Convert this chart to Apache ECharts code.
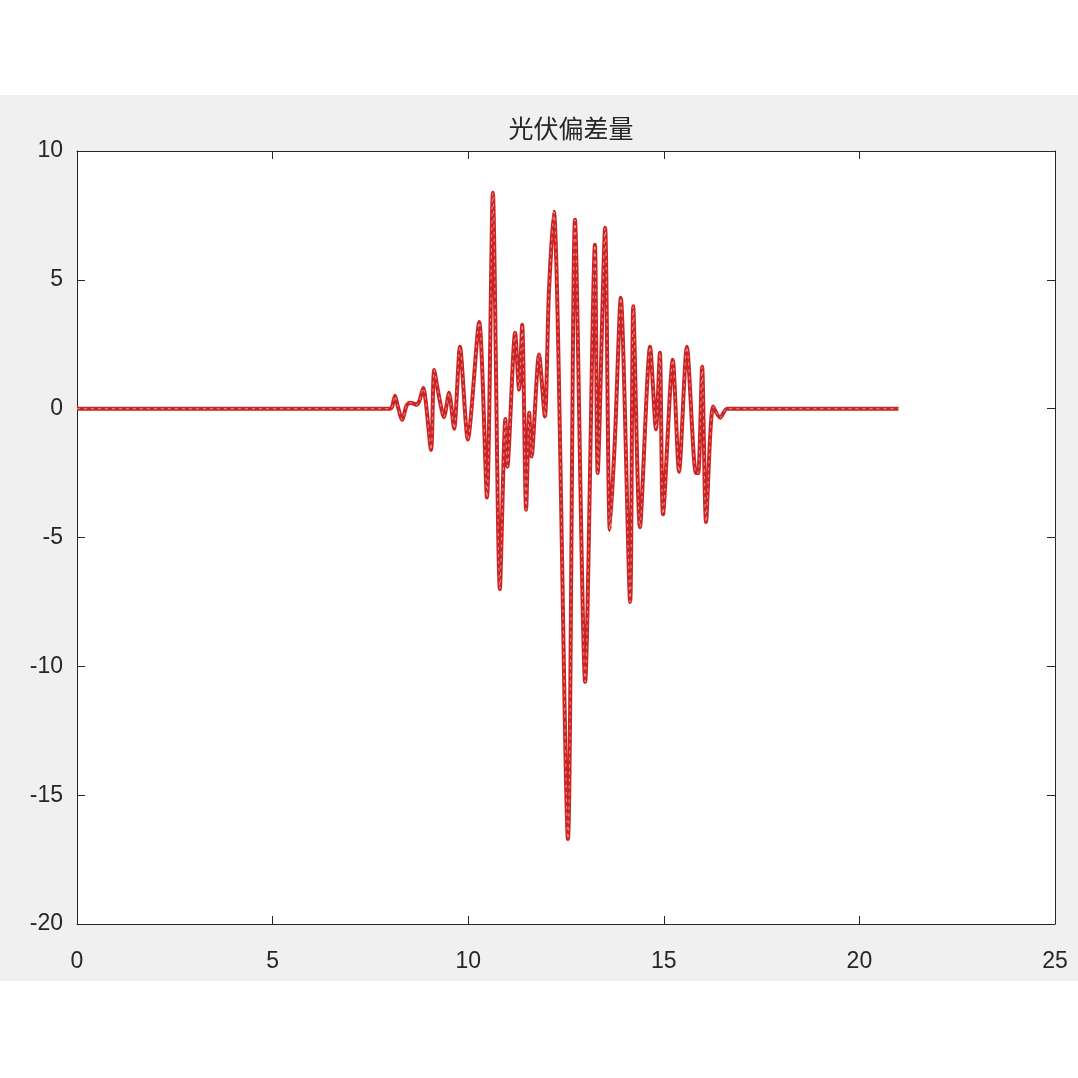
<!DOCTYPE html>
<html>
<head>
<meta charset="utf-8">
<script src="https://cdn.jsdelivr.net/npm/echarts@6/dist/echarts.min.js"></script>
<style>
html,body{margin:0;padding:0;background:#fff;}
#c{width:1078px;height:1078px;}
</style>
</head>
<body>
<div id="c"></div>
<script>
// Data (time, deviation)
var titleText = '光伏偏差量';
var xTicks = [0, 5, 10, 15, 20, 25];
var yTicks = [-20, -15, -10, -5, 0, 5, 10];
var xs = [0, 8.0, 8.05, 8.13, 8.2, 8.31, 8.42, 8.5, 8.6, 8.68, 8.75, 8.85, 9.05, 9.13, 9.25, 9.38, 9.51, 9.64, 9.79, 9.99,
  10.28, 10.48, 10.63, 10.81, 10.95, 11.0, 11.2, 11.3, 11.38, 11.48, 11.56, 11.62, 11.81, 11.96, 12.06, 12.19, 12.55, 12.73,
  12.99, 13.24, 13.31, 13.5, 13.62, 13.75, 13.9, 14.14, 14.22, 14.39, 14.65, 14.8, 14.9, 14.98, 15.23, 15.39, 15.59,
  15.82, 15.88, 15.98, 16.08, 16.26, 16.44, 16.62, 21.0];
var ys = [0, 0, 0.05, 0.5, 0.1, -0.43, 0.1, 0.23, 0.2, 0.15, 0.3, 0.8, -1.6, 1.5, 0.5, -0.33, 0.62, -0.78, 2.4, -1.2,
  3.36, -3.45, 8.38, -7.0, -0.4, -2.25, 2.95, 0.74, 3.26, -3.92, -0.16, -1.86, 2.1, -0.3, 4.42, 7.64, -16.7, 7.33,
  -10.6, 6.36, -2.5, 7.02, -4.7, -1.2, 4.3, -7.5, 3.97, -4.6, 2.4, -0.8, 2.17, -4.1, 1.9, -2.45, 2.4,
  -2.5, -2.5, 1.63, -4.4, 0.08, -0.35, 0.0, 0];

var pts = xs.map(function (x, i) { return [x, ys[i]]; });

var chart = echarts.init(document.getElementById('c'), null, {renderer: 'canvas'});
var axisCol = '#262626';
var labelFont = {color: axisCol, fontSize: 23, fontFamily: 'Liberation Sans, Arial, sans-serif'};
function xAxisCfg(pos, show) {
  return {
    type: 'value', position: pos, min: xTicks[0], max: xTicks[xTicks.length - 1], interval: 5,
    axisLine: {show: true, onZero: false, lineStyle: {color: axisCol, width: 1}},
    axisTick: {show: true, inside: true, length: 8, lineStyle: {color: axisCol}},
    axisLabel: Object.assign({show: show, margin: 26}, labelFont),
    splitLine: {show: false}
  };
}
function yAxisCfg(pos, show) {
  return {
    type: 'value', position: pos, min: yTicks[0], max: yTicks[yTicks.length - 1], interval: 5,
    axisLine: {show: true, onZero: false, lineStyle: {color: axisCol, width: 1}},
    axisTick: {show: true, inside: true, length: 8, lineStyle: {color: axisCol}},
    axisLabel: Object.assign({show: show, margin: 14}, labelFont),
    splitLine: {show: false}
  };
}
chart.setOption({
  animation: false,
  backgroundColor: '#ffffff',
  graphic: [
    {type: 'rect', z: -10, silent: true, shape: {x: 0, y: 95, width: 1078, height: 886}, style: {fill: '#f0f0f0'}},
    {type: 'rect', z: -9, silent: true, shape: {x: 77, y: 151, width: 978, height: 773}, style: {fill: '#ffffff'}}
  ],
  title: {
    text: titleText, left: 566, top: 111, textAlign: 'center',
    textStyle: {color: axisCol, fontSize: 25, fontWeight: 'normal', fontFamily: 'Noto Sans CJK SC'}
  },
  grid: {left: 77, right: 23, top: 151, bottom: 154, containLabel: false},
  xAxis: [xAxisCfg('bottom', true), xAxisCfg('top', false)],
  yAxis: [yAxisCfg('left', true), yAxisCfg('right', false)],
  series: [
    {
      type: 'line', data: pts, showSymbol: false, smooth: 0.25, xAxisIndex: 0, yAxisIndex: 0,
      lineStyle: {color: '#cc2424', width: 4}
    },
    {
      type: 'line', data: pts, showSymbol: false, smooth: 0.25, xAxisIndex: 0, yAxisIndex: 0,
      lineStyle: {color: '#ffffff', width: 1, type: [3, 4], opacity: 0.5}
    }
  ]
});
</script>
</body>
</html>
